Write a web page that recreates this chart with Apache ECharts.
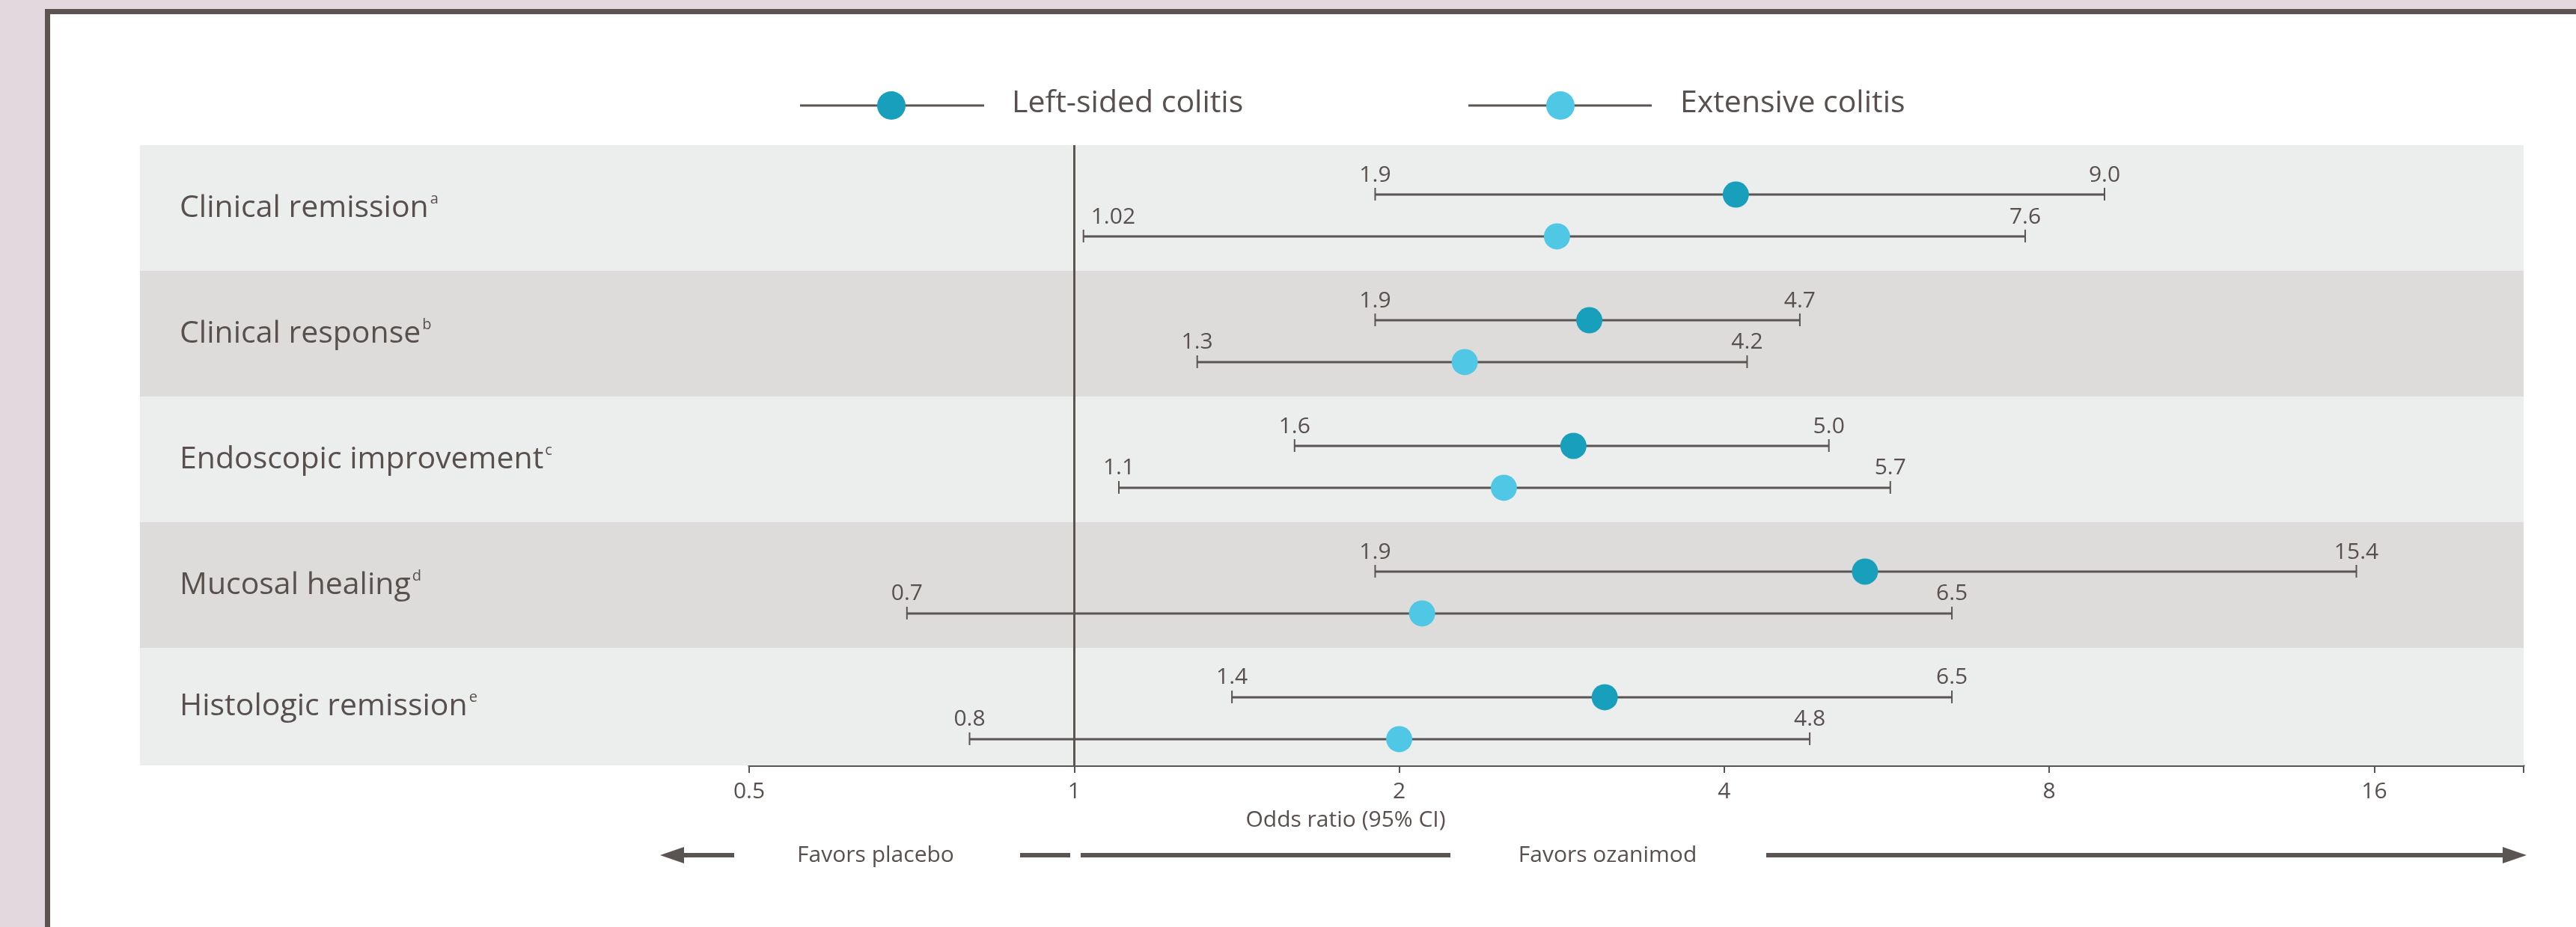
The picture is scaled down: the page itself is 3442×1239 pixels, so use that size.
<!DOCTYPE html>
<html>
<head>
<meta charset="utf-8">
<title>Ozanimod vs placebo by disease extent</title>
<script src="https://cdn.jsdelivr.net/npm/echarts@6/dist/echarts.min.js"></script>
<style>
  html, body { margin: 0; padding: 0; background: #e2d8dd; }
  #chart { width: 3442px; height: 1239px; }
</style>
</head>
<body>
<div id="chart"></div>
<script>
// Outcomes (one shaded row each) and their footnote markers
const outcomes = ['Clinical remission', 'Clinical response', 'Endoscopic improvement', 'Mucosal healing', 'Histologic remission'];
const footnotes = ['a', 'b', 'c', 'd', 'e'];

// Odds ratios with 95% CI, left-sided colitis
const leftOR = [4.1, 3.0, 2.9, 5.4, 3.1];
const leftLow = [1.9, 1.9, 1.6, 1.9, 1.4];
const leftHigh = [9.0, 4.7, 5.0, 15.4, 6.5];

// Odds ratios with 95% CI, extensive colitis
const extOR = [2.8, 2.3, 2.5, 2.1, 2.0];
const extLow = [1.02, 1.3, 1.1, 0.7, 0.8];
const extHigh = [7.6, 4.2, 5.7, 6.5, 4.8];

const seriesNames = ['Left-sided colitis', 'Extensive colitis'];
const axisTicks = [0.5, 1, 2, 4, 8, 16];
const axisTitle = 'Odds ratio (95% CI)';
const favorsLabels = ['Favors placebo', 'Favors ozanimod'];

// ---- styling ----
const FONT = '"Open Sans", "Noto Sans", sans-serif';
const TEXT = '#57504f';
const INK = '#5a5452';
const LEFT_COLOR = '#189fbb';
const EXT_COLOR = '#50c8e5';
const BAND_LIGHT = '#eceeed';
const BAND_DARK = '#dedcda';

// row layout in y-axis units: each outcome occupies one unit
const Y_MIN = -0.5;
const Y_MAX = 4.435;
const LEFT_SHIFT = -0.107;
const EXT_SHIFT = 0.226;

const GRID_TOP = 194;
const GRID_BOTTOM = 216;

function fmtCI(v) {
  return Math.abs(v * 10 - Math.round(v * 10)) < 1e-9 ? v.toFixed(1) : String(v);
}

function ciData(low, high, shift) {
  return low.map((lo, i) => [lo, high[i], i + shift]);
}
function pointData(or, shift) {
  return or.map((v, i) => [v, i + shift]);
}

function renderCI(params, api) {
  const lo = api.value(0), hi = api.value(1), y = api.value(2);
  const a = api.coord([lo, y]);
  const b = api.coord([hi, y]);
  // a lower bound sitting right on the no-effect line gets its label nudged aside
  const nearRef = lo > 1 && Math.log2(lo) < 0.1;
  const textStyle = (t, align) => ({
    text: t, fill: TEXT, fontSize: 30, fontFamily: FONT,
    align: align, textAlign: align, verticalAlign: 'middle', textVerticalAlign: 'middle'
  });
  return {
    type: 'group',
    children: [
      { type: 'line', shape: { x1: a[0], y1: a[1], x2: b[0], y2: b[1] }, style: { stroke: INK, lineWidth: 3 } },
      { type: 'line', shape: { x1: a[0], y1: a[1] - 9, x2: a[0], y2: a[1] + 8 }, style: { stroke: INK, lineWidth: 2 } },
      { type: 'line', shape: { x1: b[0], y1: b[1] - 9, x2: b[0], y2: b[1] + 8 }, style: { stroke: INK, lineWidth: 2 } },
      { type: 'text', x: nearRef ? a[0] + 10 : a[0], y: a[1] - 26, style: textStyle(fmtCI(lo), nearRef ? 'left' : 'center') },
      { type: 'text', x: b[0], y: b[1] - 26, style: textStyle(fmtCI(hi), 'center') }
    ]
  };
}

// shaded rows behind the forest plot, labelled with the outcome
const bandAreas = outcomes.map((name, i) => [
  {
    name: name,
    xAxis: 0,
    yAxis: i - 0.5,
    itemStyle: { color: i % 2 === 0 ? BAND_LIGHT : BAND_DARK },
    label: { formatter: '{m|' + name + '}{s|' + footnotes[i] + '}' }
  },
  { xAxis: 1, yAxis: Math.min(i + 0.5, Y_MAX) }
]);

const chart = echarts.init(document.getElementById('chart'), null, { renderer: 'canvas' });

chart.setOption({
  animation: false,
  backgroundColor: 'transparent',
  textStyle: { fontFamily: FONT },
  grid: [
    { left: 1001, right: 70, top: GRID_TOP, bottom: GRID_BOTTOM },
    { left: 187, right: 70, top: GRID_TOP, bottom: GRID_BOTTOM }
  ],
  xAxis: [
    {
      type: 'log', logBase: 2, min: 0.5, max: 22, gridIndex: 0, position: 'bottom',
      axisLine: { show: true, onZero: false, lineStyle: { color: INK, width: 3 } },
      axisTick: { show: true, length: 10, lineStyle: { color: INK, width: 2 } },
      splitLine: { show: false },
      axisLabel: {
        color: TEXT, fontSize: 30, fontFamily: FONT, margin: 20,
        formatter: v => (axisTicks.some(t => Math.abs(t - v) < 1e-6) ? String(v) : '')
      }
    },
    { type: 'value', min: 0, max: 1, gridIndex: 1, show: false }
  ],
  yAxis: [
    { type: 'value', min: Y_MIN, max: Y_MAX, inverse: true, gridIndex: 0, show: false },
    { type: 'value', min: Y_MIN, max: Y_MAX, inverse: true, gridIndex: 1, show: false }
  ],
  graphic: [
    // framed white panel
    { type: 'rect', z: -10, silent: true, shape: { x: 60, y: 12, width: 3400, height: 1240 }, style: { fill: '#5c5452' } },
    { type: 'rect', z: -9, silent: true, shape: { x: 67, y: 19, width: 3400, height: 1240 }, style: { fill: '#ffffff' } },
    // legend
    { type: 'line', silent: true, shape: { x1: 1069, y1: 141, x2: 1315, y2: 141 }, style: { stroke: INK, lineWidth: 3 } },
    { type: 'circle', silent: true, shape: { cx: 1191, cy: 141, r: 19 }, style: { fill: LEFT_COLOR } },
    { type: 'text', silent: true, x: 1352, y: 138, style: { text: seriesNames[0], fill: TEXT, fontSize: 41, fontFamily: FONT, verticalAlign: 'middle' } },
    { type: 'line', silent: true, shape: { x1: 1962, y1: 141, x2: 2207, y2: 141 }, style: { stroke: INK, lineWidth: 3 } },
    { type: 'circle', silent: true, shape: { cx: 2085, cy: 141, r: 19 }, style: { fill: EXT_COLOR } },
    { type: 'text', silent: true, x: 2245, y: 138, style: { text: seriesNames[1], fill: TEXT, fontSize: 41, fontFamily: FONT, verticalAlign: 'middle' } },
    // axis title
    { type: 'text', silent: true, x: 1798, y: 1096, style: { text: axisTitle, fill: TEXT, fontSize: 30, fontFamily: FONT, align: 'center', verticalAlign: 'middle' } },
    // direction arrows
    { type: 'polygon', silent: true, shape: { points: [[882, 1143], [914, 1132], [914, 1154]] }, style: { fill: INK } },
    { type: 'rect', silent: true, shape: { x: 912, y: 1140, width: 69, height: 6 }, style: { fill: INK } },
    { type: 'text', silent: true, x: 1170, y: 1143, style: { text: favorsLabels[0], fill: TEXT, fontSize: 30, fontFamily: FONT, align: 'center', verticalAlign: 'middle' } },
    { type: 'rect', silent: true, shape: { x: 1363, y: 1140, width: 67, height: 6 }, style: { fill: INK } },
    { type: 'rect', silent: true, shape: { x: 1444, y: 1140, width: 494, height: 6 }, style: { fill: INK } },
    { type: 'text', silent: true, x: 2148, y: 1143, style: { text: favorsLabels[1], fill: TEXT, fontSize: 30, fontFamily: FONT, align: 'center', verticalAlign: 'middle' } },
    { type: 'rect', silent: true, shape: { x: 2360, y: 1140, width: 986, height: 6 }, style: { fill: INK } },
    { type: 'polygon', silent: true, shape: { points: [[3376, 1143], [3344, 1132], [3344, 1154]] }, style: { fill: INK } }
  ],
  series: [
    {
      name: 'rows', type: 'scatter', xAxisIndex: 1, yAxisIndex: 1, data: [], z: 1, silent: true,
      markArea: {
        silent: true,
        label: {
          show: true, position: 'insideLeft', distance: 53, color: TEXT,
          rich: {
            m: { fontSize: 41, fontFamily: FONT, color: TEXT, lineHeight: 52 },
            s: { fontSize: 20, fontFamily: FONT, color: TEXT, verticalAlign: 'top', lineHeight: 20, padding: [4, 0, 0, 2] }
          }
        },
        data: bandAreas
      }
    },
    {
      name: seriesNames[0] + ' CI', type: 'custom', xAxisIndex: 0, yAxisIndex: 0, z: 3,
      encode: { x: [0, 1], y: 2 }, renderItem: renderCI, data: ciData(leftLow, leftHigh, LEFT_SHIFT)
    },
    {
      name: seriesNames[1] + ' CI', type: 'custom', xAxisIndex: 0, yAxisIndex: 0, z: 3,
      encode: { x: [0, 1], y: 2 }, renderItem: renderCI, data: ciData(extLow, extHigh, EXT_SHIFT)
    },
    {
      name: seriesNames[0], type: 'scatter', xAxisIndex: 0, yAxisIndex: 0, z: 5,
      symbolSize: 35, itemStyle: { color: LEFT_COLOR, opacity: 1 },
      data: pointData(leftOR, LEFT_SHIFT),
      markLine: {
        silent: true, symbol: 'none', label: { show: false },
        lineStyle: { color: INK, width: 3, type: 'solid' },
        data: [{ xAxis: 1 }]
      }
    },
    {
      name: seriesNames[1], type: 'scatter', xAxisIndex: 0, yAxisIndex: 0, z: 5,
      symbolSize: 35, itemStyle: { color: EXT_COLOR, opacity: 1 },
      data: pointData(extOR, EXT_SHIFT)
    }
  ]
});
</script>
</body>
</html>
